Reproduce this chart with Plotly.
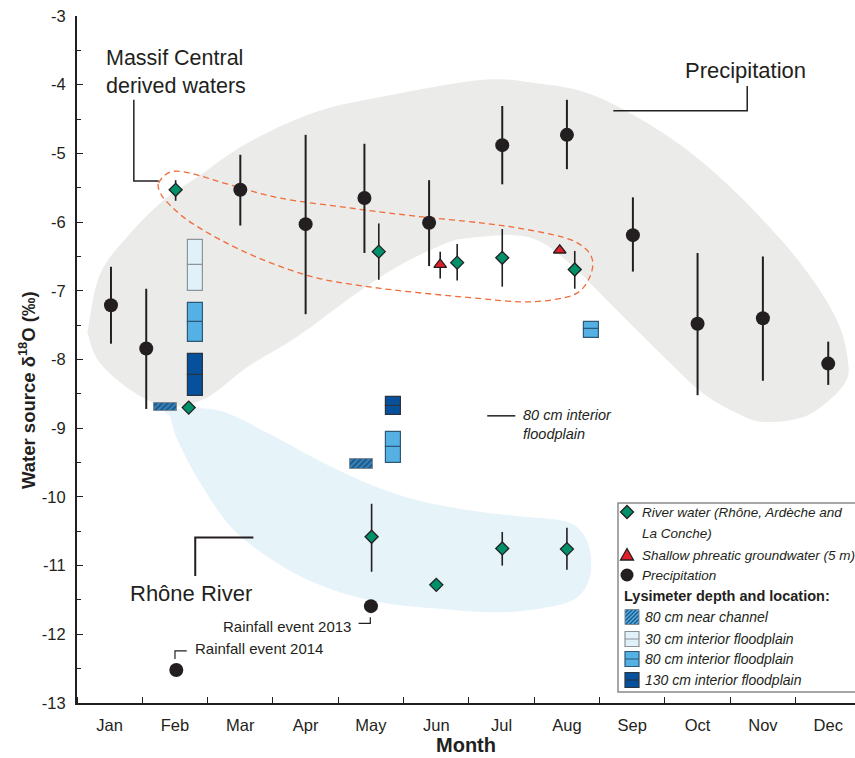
import plotly.graph_objects as go

# ---------------- data ----------------
months = ["Jan", "Feb", "Mar", "Apr", "May", "Jun", "Jul", "Aug", "Sep", "Oct", "Nov", "Dec"]
month_pos = list(range(1, 13))

# Precipitation (monthly means + two rainfall events)
precip_x = [1.02, 1.56, 3.0, 4.0, 4.9, 5.89, 7.01, 8.0, 9.01, 10.0, 11.0, 12.0, 5.0, 2.02]
precip_y = [-7.21, -7.84, -5.53, -6.03, -5.65, -6.01, -4.88, -4.73, -6.19, -7.48, -7.40, -8.06, -11.59, -12.52]
precip_hi = [-6.65, -6.97, -5.02, -4.73, -4.86, -5.39, -4.31, -4.22, -5.64, -6.45, -6.50, -7.74, None, None]
precip_lo = [-7.77, -8.72, -6.05, -7.34, -6.45, -6.64, -5.45, -5.23, -6.72, -8.52, -8.31, -8.37, None, None]

# River water (Rhône, Ardèche and La Conche)
river_x = [2.01, 2.21, 5.12, 6.32, 7.01, 8.12, 5.01, 6.0, 7.01, 8.0]
river_y = [-5.53, -8.70, -6.43, -6.59, -6.52, -6.69, -10.58, -11.28, -10.75, -10.76]
river_hi = [-5.39, None, -6.02, -6.32, -6.10, -6.42, -10.10, None, -10.51, -10.45]
river_lo = [-5.69, None, -6.84, -6.85, -6.94, -6.97, -11.09, None, -11.00, -11.06]

# Shallow phreatic groundwater (5 m)
gw_x = [6.06, 7.89]
gw_y = [-6.62, -6.41]
gw_hi = [-6.43, None]
gw_lo = [-6.82, None]

# Lysimeters (low / mid / high)
lys_nc_x = [1.85, 4.85]
lys_nc_lo = [-8.75, -9.60]
lys_nc_hi = [-8.63, -9.45]

lys30_x = [2.31]
lys30_lo = [-7.00]
lys30_mid = [-6.63]
lys30_hi = [-6.26]

lys80_x = [2.31, 5.35, 8.38]
lys80_lo = [-7.74, -9.50, -7.68]
lys80_mid = [-7.46, -9.28, -7.56]
lys80_hi = [-7.18, -9.06, -7.45]

lys130_x = [2.31, 5.35]
lys130_lo = [-8.53, -8.81]
lys130_mid = [-8.23, -8.68]
lys130_hi = [-7.92, -8.55]

# Region outlines (data units)
precip_region = [(0.68, -7.50), (0.86, -6.74), (1.32, -6.16), (1.83, -5.68), (2.35, -5.34), (3.11, -4.85),
                 (4.12, -4.41), (5.14, -4.18), (6.67, -3.93), (7.54, -3.98), (8.31, -4.12), (9.07, -4.47),
                 (9.84, -4.95), (10.60, -5.58), (11.37, -6.36), (11.87, -6.99), (12.18, -7.53), (12.30, -8.01),
                 (12.28, -8.30), (12.02, -8.59), (11.61, -8.84), (11.00, -8.91), (10.60, -8.78), (10.08, -8.49),
                 (9.58, -8.05), (9.07, -7.57), (8.66, -7.18), (8.20, -6.74), (7.85, -6.45), (7.54, -6.26),
                 (7.18, -6.19), (6.52, -6.23), (6.17, -6.30), (5.40, -6.65), (4.64, -7.13), (3.87, -7.67),
                 (3.11, -8.11), (2.50, -8.55), (1.98, -8.69), (1.58, -8.59), (1.17, -8.34), (0.82, -8.01),
                 (0.68, -7.67)]
rhone_region = [(1.89, -8.74), (2.65, -8.74), (3.42, -9.07), (4.18, -9.46), (4.94, -9.80), (5.71, -10.05),
                (6.47, -10.19), (7.24, -10.28), (7.90, -10.34), (8.20, -10.48), (8.35, -10.77), (8.35, -11.17),
                (8.16, -11.46), (7.74, -11.60), (6.98, -11.68), (5.95, -11.62), (5.19, -11.54), (4.43, -11.36),
                (3.66, -11.02), (2.90, -10.48), (2.39, -9.80), (2.04, -9.17), (1.93, -8.84)]
massif_region = [(1.75, -5.43), (1.93, -5.27), (2.24, -5.29), (2.85, -5.46), (3.61, -5.65), (4.64, -5.79),
                 (5.65, -5.91), (6.67, -6.01), (7.28, -6.09), (7.94, -6.22), (8.25, -6.36), (8.39, -6.55),
                 (8.35, -6.80), (8.16, -7.03), (7.79, -7.13), (7.28, -7.16), (6.52, -7.10), (5.65, -7.02),
                 (4.88, -6.93), (4.12, -6.80), (3.35, -6.55), (2.70, -6.26), (2.19, -5.97), (1.89, -5.72),
                 (1.78, -5.58)]

# ---------------- helpers ----------------
INK = "#231f20"
FONT = "Liberation Sans, Arial, sans-serif"
ML, MR, MT, MB, W, H = 77, 0, 16, 55, 855, 758
PW, PH = W - ML - MR, H - MT - MB

C_NC_BG, C_NC_FG, C_NC_LINE = "#1d5a8e", "#5ab4e8", "#7f8a93"
C30, C30_LINE = "#e0f1f9", "#8d9399"
C80, C80_LINE = "#55b1e4", "#2d5876"
C130, C130_LINE = "#07509c", "#2a3440"
C_RIVER, C_GW = "#00916a", "#e3202a"


def PX(px):
    return (px - ML) / PW


def PY(py):
    return (H - MB - py) / PH


def err(y, hi, lo):
    plus = [0 if h is None else h - v for v, h in zip(y, hi)]
    minus = [0 if l is None else v - l for v, l in zip(y, lo)]
    return plus, minus


def smooth_closed(pts):
    n = len(pts)
    d = f"M{pts[0][0]},{pts[0][1]}"
    for i in range(n):
        p0, p1, p2, p3 = pts[i - 1], pts[i], pts[(i + 1) % n], pts[(i + 2) % n]
        c1 = (p1[0] + (p2[0] - p0[0]) / 6, p1[1] + (p2[1] - p0[1]) / 6)
        c2 = (p2[0] - (p3[0] - p1[0]) / 6, p2[1] - (p3[1] - p1[1]) / 6)
        d += f" C{c1[0]:.4f},{c1[1]:.4f} {c2[0]:.4f},{c2[1]:.4f} {p2[0]:.4f},{p2[1]:.4f}"
    return d + " Z"


fig = go.Figure()


def lys_trace(name, xs, lo, mid, hi, width, marker):
    x2 = xs + xs
    base = lo + mid
    h = [m - l for m, l in zip(mid, lo)] + [t - m for t, m in zip(hi, mid)]
    return go.Bar(x=x2, base=base, y=h, width=[width] * len(x2), name=name, marker=marker,
                  showlegend=False, hoverinfo="skip")


fig.add_trace(go.Bar(x=lys_nc_x, base=lys_nc_lo, y=[h - l for h, l in zip(lys_nc_hi, lys_nc_lo)],
                     width=[0.35] * len(lys_nc_x), name="80 cm near channel",
                     marker=dict(color=C_NC_BG, line=dict(color=C_NC_LINE, width=1),
                                 pattern=dict(shape="/", fgcolor=C_NC_FG, bgcolor=C_NC_BG, size=4, solidity=0.45)),
                     showlegend=False, hoverinfo="skip"))
fig.add_trace(lys_trace("30 cm interior floodplain", lys30_x, lys30_lo, lys30_mid, lys30_hi, 0.23,
                        dict(color=C30, line=dict(color=C30_LINE, width=1.2))))
fig.add_trace(lys_trace("80 cm interior floodplain", lys80_x, lys80_lo, lys80_mid, lys80_hi, 0.23,
                        dict(color=C80, line=dict(color=C80_LINE, width=1.2))))
fig.add_trace(lys_trace("130 cm interior floodplain", lys130_x, lys130_lo, lys130_mid, lys130_hi, 0.23,
                        dict(color=C130, line=dict(color=C130_LINE, width=1.2))))

rp, rm = err(river_y, river_hi, river_lo)
fig.add_trace(go.Scatter(x=river_x, y=river_y, mode="markers", name="River water",
                         marker=dict(symbol="diamond", size=10, color=C_RIVER, line=dict(color=INK, width=1.3)),
                         error_y=dict(type="data", symmetric=False, array=rp, arrayminus=rm, width=0,
                                      thickness=1.6, color=INK),
                         showlegend=False, hoverinfo="skip"))
gp, gm = err(gw_y, gw_hi, gw_lo)
fig.add_trace(go.Scatter(x=gw_x, y=gw_y, mode="markers", name="Shallow phreatic groundwater",
                         marker=dict(symbol="triangle-up", size=11, color=C_GW, line=dict(color=INK, width=1.3)),
                         error_y=dict(type="data", symmetric=False, array=gp, arrayminus=gm, width=0,
                                      thickness=1.6, color=INK),
                         showlegend=False, hoverinfo="skip"))
pp, pm = err(precip_y, precip_hi, precip_lo)
fig.add_trace(go.Scatter(x=precip_x, y=precip_y, mode="markers", name="Precipitation",
                         marker=dict(symbol="circle", size=14, color=INK, line=dict(width=0)),
                         error_y=dict(type="data", symmetric=False, array=pp, arrayminus=pm, width=0,
                                      thickness=2, color=INK),
                         showlegend=False, hoverinfo="skip"))

shapes = [
    dict(type="path", path=smooth_closed(rhone_region), xref="x", yref="y", fillcolor="#e6f3f9",
         line=dict(width=0), layer="below"),
    dict(type="path", path=smooth_closed(precip_region), xref="x", yref="y", fillcolor="#ebebea",
         line=dict(width=0), layer="below"),
    dict(type="path", path=smooth_closed(massif_region), xref="x", yref="y", fillcolor="rgba(0,0,0,0)",
         line=dict(color="#f26b3a", width=1.3, dash="6px,4px"), layer="below"),
]


def leader(pts, w=1.5):
    d = "M" + " L".join(f"{a},{b}" for a, b in pts)
    return dict(type="path", path=d, xref="x", yref="y", line=dict(color=INK, width=w), layer="above")


shapes += [
    leader([(1.37, -4.22), (1.37, -5.40), (1.75, -5.40)]),
    leader([(10.76, -4.02), (10.76, -4.38), (8.71, -4.38)]),
    leader([(2.31, -11.15), (2.31, -10.59), (3.20, -10.59)], 2),
    leader([(4.81, -11.84), (4.99, -11.84), (4.99, -11.75)], 1.2),
    leader([(2.0, -12.36), (2.0, -12.24), (2.18, -12.24)], 1.2),
    leader([(6.78, -8.82), (7.21, -8.82)], 1.5),
]

annotations = [
    dict(x=0.91, y=-3.81, xref="x", yref="y", text="Massif Central<br>derived waters", showarrow=False,
         xanchor="left", yanchor="middle", align="left", font=dict(size=21.5, color=INK, family=FONT)),
    dict(x=10.74, y=-3.79, xref="x", yref="y", text="Precipitation", showarrow=False,
         xanchor="center", yanchor="middle", font=dict(size=22, color=INK, family=FONT)),
    dict(x=2.25, y=-11.40, xref="x", yref="y", text="Rhône River", showarrow=False,
         xanchor="center", yanchor="middle", font=dict(size=22, color=INK, family=FONT)),
    dict(x=4.73, y=-11.88, xref="x", yref="y", text="Rainfall event 2013", showarrow=False,
         xanchor="right", yanchor="middle", font=dict(size=15, color=INK, family=FONT)),
    dict(x=2.28, y=-12.21, xref="x", yref="y", text="Rainfall event 2014", showarrow=False,
         xanchor="left", yanchor="middle", font=dict(size=15, color=INK, family=FONT)),
    dict(x=7.30, y=-8.94, xref="x", yref="y", text="<i>80 cm interior<br>floodplain</i>", showarrow=False,
         xanchor="left", yanchor="middle", align="left", font=dict(size=14.5, color=INK, family=FONT)),
    # y-axis title
    dict(x=PX(27), y=PY(390), xref="paper", yref="paper", text="<b>Water source δ<sup>18</sup>O (‰)</b>",
         textangle=-90, showarrow=False, xanchor="center", yanchor="middle",
         font=dict(size=18.5, color=INK, family=FONT)),
]

# ---------------- manual legend ----------------
shapes.append(dict(type="rect", xref="paper", yref="paper", x0=PX(618), x1=PX(862), y0=PY(692), y1=PY(503),
                   fillcolor="white", line=dict(color="#8a8a8a", width=1.5), layer="above"))


def pix_shape(cx, cy, **kw):
    d = dict(xref="paper", yref="paper", xsizemode="pixel", ysizemode="pixel",
             xanchor=PX(cx), yanchor=PY(cy), layer="above")
    d.update(kw)
    return d


shapes.append(pix_shape(627, 512, type="path", path="M0,6.5 L6.5,0 L0,-6.5 L-6.5,0 Z",
                        fillcolor=C_RIVER, line=dict(color=INK, width=1.3)))
shapes.append(pix_shape(627, 555, type="path", path="M-6.5,-5 L6.5,-5 L0,6.5 Z",
                        fillcolor=C_GW, line=dict(color=INK, width=1.3)))
shapes.append(pix_shape(627, 575, type="circle", x0=-6.5, x1=6.5, y0=-6.5, y1=6.5,
                        fillcolor=INK, line=dict(width=0)))

# hatched icon
shapes.append(pix_shape(632, 617, type="rect", x0=-7, x1=7, y0=-7.5, y1=7.5,
                        fillcolor=C_NC_BG, line=dict(width=0)))
for c in range(-13, 14, 4):
    xa, xb = max(-7, -7.5 + c), min(7, 7.5 + c)
    if xb - xa > 0.5:
        shapes.append(pix_shape(632, 617, type="line", x0=xa, x1=xb, y0=xa - c, y1=xb - c,
                                line=dict(color=C_NC_FG, width=1.3)))
shapes.append(pix_shape(632, 617, type="rect", x0=-7, x1=7, y0=-7.5, y1=7.5,
                        fillcolor="rgba(0,0,0,0)", line=dict(color=C_NC_LINE, width=1)))

for cy, fill, edge in [(639, C30, C30_LINE), (659, C80, C80_LINE), (680, C130, C130_LINE)]:
    shapes.append(pix_shape(632, cy, type="rect", x0=-7, x1=7, y0=-7.5, y1=7.5,
                            fillcolor=fill, line=dict(color=edge, width=1.2)))
    shapes.append(pix_shape(632, cy, type="line", x0=-7, x1=7, y0=0, y1=0,
                            line=dict(color=edge, width=1)))

legend_texts = [
    (640, 512, "<i>River water (Rhône, Ardèche and</i>", 13.5),
    (640, 533, "<i>La Conche)</i>", 13.5),
    (640, 555, "<i>Shallow phreatic groundwater (5 m)</i>", 13.5),
    (640, 575, "<i>Precipitation</i>", 13.5),
    (622, 596, "<b>Lysimeter depth and location:</b>", 14.5),
    (643, 617, "<i>80 cm near channel</i>", 14),
    (643, 639, "<i>30 cm interior floodplain</i>", 14),
    (643, 659, "<i>80 cm interior floodplain</i>", 14),
    (643, 680, "<i>130 cm interior floodplain</i>", 14),
]
for lx, ly, t, fs in legend_texts:
    annotations.append(dict(x=PX(lx), y=PY(ly), xref="paper", yref="paper", text=t, showarrow=False,
                            xanchor="left", yanchor="middle", font=dict(size=fs, color=INK, family=FONT)))

fig.update_layout(
    width=W, height=H,
    margin=dict(l=ML, r=MR, t=MT, b=MB, autoexpand=False),
    paper_bgcolor="white", plot_bgcolor="white",
    barmode="overlay", bargap=0,
    shapes=shapes, annotations=annotations,
    showlegend=False,
    xaxis=dict(range=[0.5, 12.41], tickmode="array", tickvals=month_pos, ticktext=months,
               ticks="", showline=True, linewidth=2, linecolor=INK, showgrid=False, zeroline=False,
               tickfont=dict(size=16.5, color=INK, family=FONT), ticklabelstandoff=6,
               minor=dict(tickmode="linear", tick0=0.5, dtick=1, ticks="inside", ticklen=6,
                          tickcolor=INK, tickwidth=1.2, showgrid=False),
               title=dict(text="<b>Month</b>", font=dict(size=20, color=INK, family=FONT), standoff=3)),
    yaxis=dict(range=[-13, -3], tickmode="array", tickvals=list(range(-13, -2)),
               ticktext=[str(v) for v in range(-13, -2)],
               ticks="inside", ticklen=6, tickcolor=INK, tickwidth=1.2,
               showline=True, linewidth=2, linecolor=INK, showgrid=False, zeroline=False,
               tickfont=dict(size=16.5, color=INK, family=FONT), ticklabelstandoff=6,
               minor=dict(tickmode="linear", tick0=-3.5, dtick=1, ticks="inside", ticklen=4,
                          tickcolor=INK, tickwidth=1.2, showgrid=False)),
)

fig.write_html("out.html")
